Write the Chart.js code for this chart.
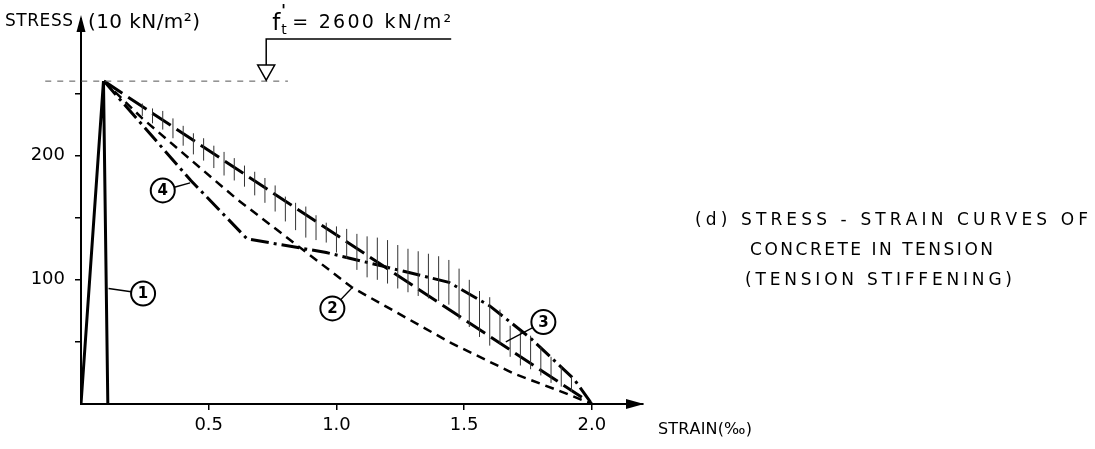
<!DOCTYPE html>
<html>
<head>
<meta charset="utf-8">
<script src="https://cdn.jsdelivr.net/npm/chart.js@4.4.1/dist/chart.umd.min.js"></script>
<style>
  html, body { margin: 0; padding: 0; background: #fff; }
  #wrap { width: 1095px; height: 449px; }
</style>
</head>
<body>
<div id="wrap"><canvas id="chart" width="1095" height="449"></canvas></div>
<script>
// strain in per mille, stress in units of 10 kN/m2
const strainTicks = [0.5, 1.0, 1.5, 2.0];
const stressTicks = [50, 100, 150, 200, 250];
const stressLabeled = [100, 200];

// (1) linear elastic then sudden drop
const c1Strain = [0, 0.088, 0.105];
const c1Stress = [0, 260, 0];
// (2) dashed softening curve
const c2Strain = [0.09, 0.24, 0.61, 1.06, 1.45, 1.70, 1.88, 2.0];
const c2Stress = [260, 230, 165, 94, 49, 24, 10, 0];
// (3) straight descending branch (hatched)
const c3Strain = [0.09, 2.0];
const c3Stress = [260, 0];
// (4) dash-dot branch with a knee
const c4Strain = [0.09, 0.43, 0.65, 0.96, 1.18, 1.44, 1.60, 1.76, 1.93, 2.0];
const c4Stress = [260, 180, 133, 122, 111, 98, 79, 53, 20, 0];

// hatching strokes (tension stiffening zone)
const hatchStrain = [0.24, 0.28, 0.32, 0.36, 0.40, 0.44, 0.48, 0.52, 0.56, 0.60,
                     0.64, 0.68, 0.72, 0.76, 0.80, 0.84, 0.88, 0.92, 0.96, 1.00,
                     1.04, 1.08, 1.12, 1.16, 1.20, 1.24, 1.28, 1.32, 1.36, 1.40,
                     1.44, 1.48, 1.52, 1.56, 1.60, 1.64, 1.68, 1.72, 1.76, 1.80,
                     1.84, 1.88, 1.92];
const hatchTop = [242, 238, 236, 230, 224, 218, 214, 208, 203, 198,
                  192, 187, 182, 176, 167, 162, 159, 152, 146, 143,
                  141, 137, 135, 134, 132, 128, 125, 123, 121, 119,
                  116, 109, 100, 91, 86, 76, 63, 59, 55, 46,
                  38, 30, 22];
const hatchBottom = [232, 226, 221, 214, 208, 201, 196, 190, 184, 180,
                     175, 168, 162, 155, 147, 140, 134, 132, 130, 122,
                     117, 108, 102, 100, 97, 93, 90, 87, 85, 83,
                     80, 68, 62, 54, 47, 48, 38, 31, 28, 23,
                     17, 14, 10];

const ftValue = 260;

const FONT = "'DejaVu Sans', sans-serif";

function pts(xs, ys) {
  return xs.map((x, i) => ({ x: x, y: ys[i] }));
}

const hatchData = hatchStrain.flatMap((x, i) => [
  { x: x, y: hatchBottom[i] },
  { x: x, y: hatchTop[i] },
  { x: x, y: null }
]);

function spacedText(ctx, text, x0, x1, y) {
  const chars = Array.from(text);
  const widths = chars.map(c => ctx.measureText(c).width);
  const total = widths.reduce((a, b) => a + b, 0);
  const gap = chars.length > 1 ? (x1 - x0 - total) / (chars.length - 1) : 0;
  let x = x0;
  ctx.textAlign = 'left';
  chars.forEach((c, i) => {
    ctx.fillText(c, x, y);
    x += widths[i] + gap;
  });
}

// circled curve numbers: label position and the point of the curve it points to
const curveTags = [
  { n: '1', at: [0.243, 89], to: [0.108, 93] },
  { n: '2', at: [0.984, 77], to: [1.063, 94] },
  { n: '3', at: [1.81, 66], to: [1.663, 50] },
  { n: '4', at: [0.32, 172], to: [0.427, 178] }
];

const overlay = {
  id: 'overlay',
  afterDraw(chart) {
    const ctx = chart.ctx;
    const xs = chart.scales.x, ys = chart.scales.y;
    const a = chart.chartArea;
    ctx.save();
    ctx.fillStyle = '#000';
    ctx.strokeStyle = '#000';

    // axis arrows
    ctx.lineWidth = 2;
    ctx.beginPath();
    ctx.moveTo(a.left, a.top);
    ctx.lineTo(a.left, a.top - 6);
    ctx.stroke();
    ctx.beginPath();
    ctx.moveTo(a.left, a.top - 9);
    ctx.lineTo(a.left - 4.5, a.top + 8);
    ctx.lineTo(a.left + 4.5, a.top + 8);
    ctx.closePath();
    ctx.fill();
    ctx.beginPath();
    ctx.moveTo(a.right + 1, a.bottom);
    ctx.lineTo(a.right - 17, a.bottom - 5);
    ctx.lineTo(a.right - 17, a.bottom + 5);
    ctx.closePath();
    ctx.fill();

    // f't reference line
    const yRef = ys.getPixelForValue(ftValue);
    ctx.lineWidth = 1;
    ctx.strokeStyle = '#555';
    ctx.setLineDash([6, 6]);
    ctx.beginPath();
    ctx.moveTo(xs.getPixelForValue(-0.14), yRef);
    ctx.lineTo(xs.getPixelForValue(0.81), yRef);
    ctx.stroke();
    ctx.setLineDash([]);

    // marker triangle and label
    const xm = xs.getPixelForValue(0.725);
    ctx.strokeStyle = '#000';
    ctx.lineWidth = 1.5;
    ctx.beginPath();
    ctx.moveTo(xm - 8.5, yRef - 16);
    ctx.lineTo(xm + 8.5, yRef - 16);
    ctx.lineTo(xm, yRef - 1);
    ctx.closePath();
    ctx.stroke();
    ctx.beginPath();
    ctx.moveTo(xm, yRef - 16);
    ctx.lineTo(xm, 39);
    ctx.lineTo(xm + 185, 39);
    ctx.stroke();

    ctx.textBaseline = 'middle';
    ctx.font = '23px ' + FONT;
    ctx.textAlign = 'left';
    ctx.fillText('f', xm + 6, 24);
    ctx.font = 'bold 15px ' + FONT;
    ctx.fillText("'", xm + 15, 12);
    ctx.font = '14px ' + FONT;
    ctx.fillText('t', xm + 15, 30);
    ctx.font = '19px ' + FONT;
    spacedText(ctx, '= 2600 kN/m\u00B2', xm + 26, xm + 185, 23);

    // axis titles
    ctx.font = '17px ' + FONT;
    spacedText(ctx, 'STRESS', 5, 73, 22);
    ctx.font = '20px ' + FONT;
    spacedText(ctx, '(10 kN/m\u00B2)', 88, 200, 23);
    ctx.font = '16px ' + FONT;
    spacedText(ctx, 'STRAIN(\u2030)', 658, 752, 430);

    // caption
    ctx.font = '17px ' + FONT;
    spacedText(ctx, '(d) STRESS - STRAIN CURVES OF', 695, 1088, 221);
    spacedText(ctx, 'CONCRETE IN TENSION', 750, 993, 251);
    spacedText(ctx, '(TENSION STIFFENING)', 745, 1012, 281);

    // circled curve numbers
    ctx.font = 'bold 15px ' + FONT;
    ctx.textAlign = 'center';
    ctx.lineWidth = 2;
    const r = 12;
    curveTags.forEach(t => {
      const cx = xs.getPixelForValue(t.at[0]), cy = ys.getPixelForValue(t.at[1]);
      const px = xs.getPixelForValue(t.to[0]), py = ys.getPixelForValue(t.to[1]);
      const d = Math.hypot(px - cx, py - cy);
      ctx.beginPath();
      ctx.arc(cx, cy, r, 0, Math.PI * 2);
      ctx.stroke();
      ctx.lineWidth = 1.3;
      ctx.beginPath();
      ctx.moveTo(cx + (px - cx) * r / d, cy + (py - cy) * r / d);
      ctx.lineTo(px, py);
      ctx.stroke();
      ctx.lineWidth = 2;
      ctx.fillText(t.n, cx, cy + 1);
    });
    ctx.restore();
  }
};

const lineBase = { showLine: true, pointRadius: 0, borderColor: '#000', fill: false, tension: 0 };

new Chart(document.getElementById('chart').getContext('2d'), {
  type: 'scatter',
  data: {
    datasets: [
      Object.assign({}, lineBase, { label: 'hatch', data: hatchData, borderColor: '#333', borderWidth: 1, spanGaps: false }),
      Object.assign({}, lineBase, { label: '1', data: pts(c1Strain, c1Stress), borderWidth: 3 }),
      Object.assign({}, lineBase, { label: '2', data: pts(c2Strain, c2Stress), borderWidth: 2.5, borderDash: [9, 6] }),
      Object.assign({}, lineBase, { label: '3', data: pts(c3Strain, c3Stress), borderWidth: 3, borderDash: [22, 7] }),
      Object.assign({}, lineBase, { label: '4', data: pts(c4Strain, c4Stress), borderWidth: 3, borderDash: [18, 5, 3, 5] })
    ]
  },
  options: {
    responsive: false,
    animation: false,
    layout: { padding: { top: 24, right: 452, left: 0, bottom: 0 } },
    plugins: { legend: { display: false }, tooltip: { enabled: false } },
    scales: {
      x: {
        type: 'linear', min: 0, max: 2.2,
        afterBuildTicks: s => { s.ticks = strainTicks.map(v => ({ value: v })); },
        afterFit: s => { s.height = 45; },
        ticks: { callback: v => v.toFixed(1), color: '#000', font: { size: 18, family: FONT }, padding: 5, maxRotation: 0, autoSkip: false },
        grid: { drawOnChartArea: false, tickLength: 6, color: '#000', lineWidth: 1.5 },
        border: { color: '#000', width: 2 }
      },
      y: {
        type: 'linear', min: 0, max: 306,
        afterBuildTicks: s => { s.ticks = stressTicks.map(v => ({ value: v })); },
        afterFit: s => { s.width = 81; },
        ticks: { callback: v => stressLabeled.includes(v) ? String(v) : '', color: '#000', font: { size: 18, family: FONT }, padding: 10, autoSkip: false },
        grid: { drawOnChartArea: false, tickLength: 6, color: '#000', lineWidth: 1.5 },
        border: { color: '#000', width: 2 }
      }
    }
  },
  plugins: [overlay]
});
</script>
</body>
</html>
